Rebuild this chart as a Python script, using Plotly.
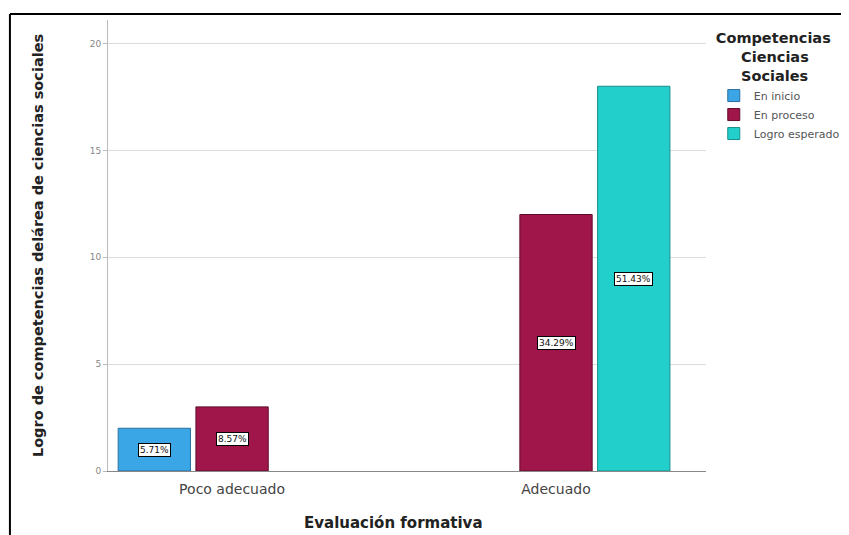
import plotly.graph_objects as go

categories = ["Poco adecuado", "Adecuado"]
series_names = ["En inicio", "En proceso", "Logro esperado"]
en_inicio = [2, None]
en_proceso = [3, 12]
logro_esperado = [None, 18]
pct_inicio = ["5.71%", None]
pct_proceso = ["8.57%", "34.29%"]
pct_logro = [None, "51.43%"]
y_ticks = [0, 5, 10, 15, 20]

colors = ["#3AA6E6", "#A0154A", "#22CFCB"]
outlines = ["#2A6F9E", "#5E0C2A", "#168E8B"]

values = [en_inicio, en_proceso, logro_esperado]
labels = [pct_inicio, pct_proceso, pct_logro]

BARGAP = 0.28
BARGROUPGAP = 0.07
FONT = "DejaVu Sans, Verdana, sans-serif"

fig = go.Figure()
for name, vals, c, oc in zip(series_names, values, colors, outlines):
    fig.add_trace(go.Bar(
        name=name, x=categories, y=vals,
        marker=dict(color=c, line=dict(color=oc, width=1)),
        hoverinfo="skip",
    ))

annotations = []
n = len(series_names)
slot = (1 - BARGAP) / n
for i, (vals, labs) in enumerate(zip(values, labels)):
    for j, (v, lab) in enumerate(zip(vals, labs)):
        if v is None or lab is None:
            continue
        annotations.append(dict(
            x=j + (i - (n - 1) / 2) * slot, y=v / 2, xref="x", yref="y",
            text=lab, showarrow=False,
            font=dict(size=9, color="#111", family=FONT),
            bgcolor="white", bordercolor="#000", borderwidth=1, borderpad=1,
        ))

annotations.append(dict(
    x=0.477, y=-0.115, xref="paper", yref="paper", text="<b>Evaluación formativa</b>",
    showarrow=False, xanchor="center", yanchor="middle",
    font=dict(size=15, color="#222", family=FONT),
))

legend_title = ("<b>Competencias<br>" + "&nbsp;" * 5 + "Ciencias<br>"
                + "&nbsp;" * 5 + "Sociales</b>")

fig.update_layout(
    width=849, height=535,
    paper_bgcolor="white", plot_bgcolor="white",
    margin=dict(l=100, r=151, t=12, b=72, autoexpand=False),
    barmode="group", bargap=BARGAP, bargroupgap=BARGROUPGAP,
    font=dict(family=FONT, color="#333"),
    showlegend=True,
    legend=dict(
        x=1.013, y=0.99, xanchor="left", yanchor="top",
        title=dict(text=legend_title,
                   font=dict(size=14.5, color="#222", family=FONT)),
        font=dict(size=11, color="#555", family=FONT),
        itemwidth=30, tracegroupgap=0,
    ),
    annotations=annotations,
    shapes=[
        dict(type="line", xref="paper", yref="paper", x0=-0.164, x1=1.3, y0=1.0133, y1=1.0133,
             line=dict(color="black", width=2)),
        dict(type="line", xref="paper", yref="paper", x0=-0.164, x1=-0.164, y0=1.0133, y1=-0.2,
             line=dict(color="black", width=2)),
    ],
)

fig.update_xaxes(
    type="category", range=[-0.383, 1.463],
    showline=True, linecolor="#888", linewidth=1, ticks="",
    ticklabelstandoff=5,
    tickfont=dict(size=14, color="#444", family=FONT),
    showgrid=False,
)
fig.update_yaxes(
    range=[0, 21.1], tickvals=y_ticks,
    showline=True, linecolor="#bbb", linewidth=1,
    showgrid=True, gridcolor="#dcdcdc", gridwidth=1,
    ticks="outside", ticklen=4, tickcolor="#bbb",
    tickfont=dict(size=9, color="#888", family=FONT),
    zeroline=False,
    title=dict(text="<b>Logro de competencias delárea de ciencias sociales</b>",
               font=dict(size=14.5, color="#222", family=FONT), standoff=42),
)

fig.write_html("out.html")
